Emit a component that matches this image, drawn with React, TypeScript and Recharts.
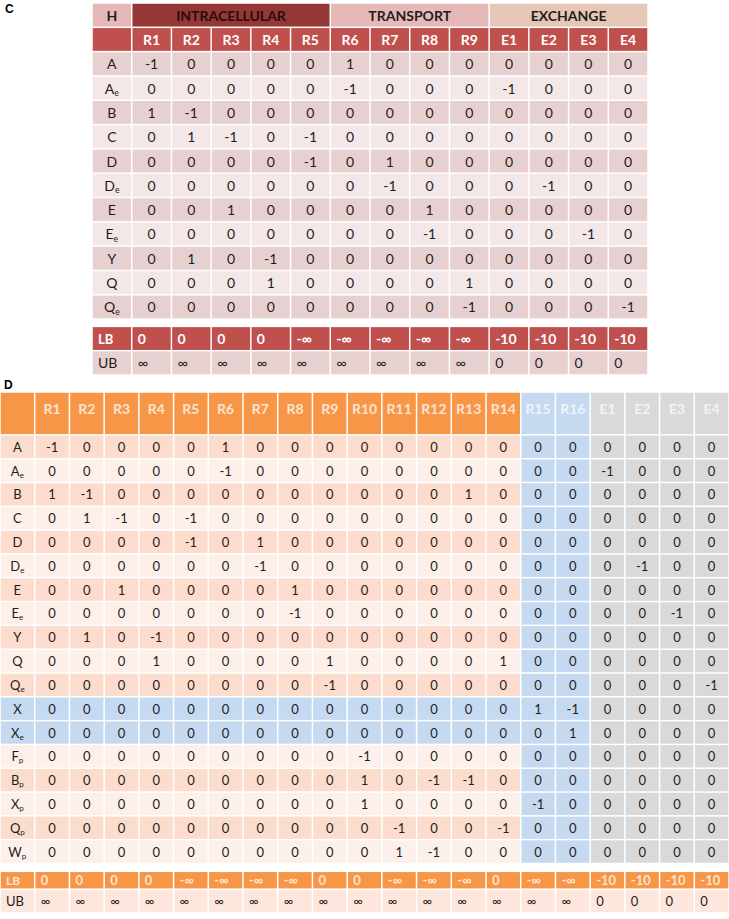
import React from 'react';
import { ScatterChart, Scatter, XAxis, YAxis } from 'recharts';

const FONT = 'Lato, "Open Sans", "DejaVu Sans", sans-serif';

// ---------- Panel C data ----------
const cGroups = ['INTRACELLULAR', 'TRANSPORT', 'EXCHANGE'];
const cGroupSpans = [5, 4, 4];
const cCols = ['R1', 'R2', 'R3', 'R4', 'R5', 'R6', 'R7', 'R8', 'R9', 'E1', 'E2', 'E3', 'E4'];
const cRows = ['A', 'A_e', 'B', 'C', 'D', 'D_e', 'E', 'E_e', 'Y', 'Q', 'Q_e'];
const cValues = [
  [-1, 0, 0, 0, 0, 1, 0, 0, 0, 0, 0, 0, 0],
  [0, 0, 0, 0, 0, -1, 0, 0, 0, -1, 0, 0, 0],
  [1, -1, 0, 0, 0, 0, 0, 0, 0, 0, 0, 0, 0],
  [0, 1, -1, 0, -1, 0, 0, 0, 0, 0, 0, 0, 0],
  [0, 0, 0, 0, -1, 0, 1, 0, 0, 0, 0, 0, 0],
  [0, 0, 0, 0, 0, 0, -1, 0, 0, 0, -1, 0, 0],
  [0, 0, 1, 0, 0, 0, 0, 1, 0, 0, 0, 0, 0],
  [0, 0, 0, 0, 0, 0, 0, -1, 0, 0, 0, -1, 0],
  [0, 1, 0, -1, 0, 0, 0, 0, 0, 0, 0, 0, 0],
  [0, 0, 0, 1, 0, 0, 0, 0, 1, 0, 0, 0, 0],
  [0, 0, 0, 0, 0, 0, 0, 0, -1, 0, 0, 0, -1],
];
const cLB = ['0', '0', '0', '0', '-∞', '-∞', '-∞', '-∞', '-∞', '-10', '-10', '-10', '-10'];
const cUB = ['∞', '∞', '∞', '∞', '∞', '∞', '∞', '∞', '∞', '0', '0', '0', '0'];

// ---------- Panel D data ----------
const dCols = ['R1', 'R2', 'R3', 'R4', 'R5', 'R6', 'R7', 'R8', 'R9', 'R10', 'R11', 'R12', 'R13', 'R14', 'R15', 'R16', 'E1', 'E2', 'E3', 'E4'];
const dRows = ['A', 'A_e', 'B', 'C', 'D', 'D_e', 'E', 'E_e', 'Y', 'Q', 'Q_e', 'X', 'X_e', 'F_p', 'B_p', 'X_p', 'Q_p', 'W_p'];
const dValues = [
  [-1, 0, 0, 0, 0, 1, 0, 0, 0, 0, 0, 0, 0, 0, 0, 0, 0, 0, 0, 0],
  [0, 0, 0, 0, 0, -1, 0, 0, 0, 0, 0, 0, 0, 0, 0, 0, -1, 0, 0, 0],
  [1, -1, 0, 0, 0, 0, 0, 0, 0, 0, 0, 0, 1, 0, 0, 0, 0, 0, 0, 0],
  [0, 1, -1, 0, -1, 0, 0, 0, 0, 0, 0, 0, 0, 0, 0, 0, 0, 0, 0, 0],
  [0, 0, 0, 0, -1, 0, 1, 0, 0, 0, 0, 0, 0, 0, 0, 0, 0, 0, 0, 0],
  [0, 0, 0, 0, 0, 0, -1, 0, 0, 0, 0, 0, 0, 0, 0, 0, 0, -1, 0, 0],
  [0, 0, 1, 0, 0, 0, 0, 1, 0, 0, 0, 0, 0, 0, 0, 0, 0, 0, 0, 0],
  [0, 0, 0, 0, 0, 0, 0, -1, 0, 0, 0, 0, 0, 0, 0, 0, 0, 0, -1, 0],
  [0, 1, 0, -1, 0, 0, 0, 0, 0, 0, 0, 0, 0, 0, 0, 0, 0, 0, 0, 0],
  [0, 0, 0, 1, 0, 0, 0, 0, 1, 0, 0, 0, 0, 1, 0, 0, 0, 0, 0, 0],
  [0, 0, 0, 0, 0, 0, 0, 0, -1, 0, 0, 0, 0, 0, 0, 0, 0, 0, 0, -1],
  [0, 0, 0, 0, 0, 0, 0, 0, 0, 0, 0, 0, 0, 0, 1, -1, 0, 0, 0, 0],
  [0, 0, 0, 0, 0, 0, 0, 0, 0, 0, 0, 0, 0, 0, 0, 1, 0, 0, 0, 0],
  [0, 0, 0, 0, 0, 0, 0, 0, 0, -1, 0, 0, 0, 0, 0, 0, 0, 0, 0, 0],
  [0, 0, 0, 0, 0, 0, 0, 0, 0, 1, 0, -1, -1, 0, 0, 0, 0, 0, 0, 0],
  [0, 0, 0, 0, 0, 0, 0, 0, 0, 1, 0, 0, 0, 0, -1, 0, 0, 0, 0, 0],
  [0, 0, 0, 0, 0, 0, 0, 0, 0, 0, -1, 0, 0, -1, 0, 0, 0, 0, 0, 0],
  [0, 0, 0, 0, 0, 0, 0, 0, 0, 0, 1, -1, 0, 0, 0, 0, 0, 0, 0, 0],
];
const dLB = ['0', '0', '0', '0', '-∞', '-∞', '-∞', '-∞', '0', '0', '-∞', '-∞', '-∞', '0', '-∞', '-∞', '-10', '-10', '-10', '-10'];
const dUB = ['∞', '∞', '∞', '∞', '∞', '∞', '∞', '∞', '∞', '∞', '∞', '∞', '∞', '∞', '∞', '∞', '0', '0', '0', '0'];
const dBlueRows = ['X', 'X_e'];
const dBlueCols = ['R15', 'R16'];
const dGrayCols = ['E1', 'E2', 'E3', 'E4'];

// ---------- styling ----------
const TXT = '#1e1e1e';
const C_PINK = '#e6b9b8';
const C_INTRA = '#953735';
const C_EXCH = '#e6c6b6';
const C_RED = '#c0504d';
const C_DARK = '#e7d0d0';
const C_LIGHT = '#f3e7e7';
const D_ORANGE = '#f79646';
const D_ORANGE_TXT = '#fde4d2';
const D_BLUE = '#c5d9f1';
const D_BLUE_TXT = '#eef4fb';
const D_GRAY = '#d9d9d9';
const D_GRAY_TXT = '#f3f3f3';
const D_DARK = '#fcdccd';
const D_LIGHT = '#fdf0ea';
const D_UB = '#fde7dc';

type CellT = {
  x: number; y: number; w: number; h: number;
  fill: string; text: string; color: string; bold?: boolean;
  align?: 'center' | 'start'; fs: number; ty?: number;
};

const valStr = (v: number) => String(v);

// Panel C layout (units: columns / rows)
const C_W = 556, C_H = 372;
const C_XSPAN = cCols.length + 1;
const C_GAP = 0.3;
const C_YSPAN = 2 + cRows.length + C_GAP + 2;

function buildC(): CellT[] {
  const cells: CellT[] = [];
  cells.push({ x: 0.5, y: 0.5, w: 1, h: 1, fill: C_PINK, text: 'H', color: TXT, bold: true, fs: 14 });
  let start = 1;
  const groupFills = [C_INTRA, C_PINK, C_EXCH];
  cGroups.forEach((g, i) => {
    const span = cGroupSpans[i];
    cells.push({ x: start + span / 2, y: 0.5, w: span, h: 1, fill: groupFills[i], text: g, color: i === 0 ? '#2a0c0c' : TXT, bold: true, fs: 14 });
    start += span;
  });
  cells.push({ x: 0.5, y: 1.5, w: 1, h: 1, fill: C_RED, text: '', color: '#fff', fs: 14 });
  cCols.forEach((c, j) => cells.push({ x: j + 1.5, y: 1.5, w: 1, h: 1, fill: C_RED, text: c, color: '#fff', bold: true, fs: 14 }));
  cRows.forEach((r, i) => {
    const fill = i % 2 === 0 ? C_DARK : C_LIGHT;
    const y = 2.5 + i;
    cells.push({ x: 0.5, y, w: 1, h: 1, fill, text: r, color: TXT, fs: 14 });
    cValues[i].forEach((v, j) => cells.push({ x: j + 1.5, y, w: 1, h: 1, fill, text: valStr(v), color: TXT, fs: 14 }));
  });
  const yLB = 2 + cRows.length + C_GAP + 0.5;
  cells.push({ x: 0.5, y: yLB, w: 1, h: 1, fill: C_RED, text: 'LB', color: '#fff', bold: true, align: 'start', fs: 13 });
  cLB.forEach((t, j) => cells.push({ x: j + 1.5, y: yLB, w: 1, h: 1, fill: C_RED, text: t, color: '#fff', bold: true, align: 'start', fs: 14 }));
  const yUB = yLB + 1;
  cells.push({ x: 0.5, y: yUB, w: 1, h: 1, fill: C_DARK, text: 'UB', color: TXT, align: 'start', fs: 14 });
  cUB.forEach((t, j) => cells.push({ x: j + 1.5, y: yUB, w: 1, h: 1, fill: C_DARK, text: t, color: TXT, align: 'start', fs: 14 }));
  return cells;
}

// Panel D layout
const D_W = 729, D_H = 521;
const D_XSPAN = dCols.length + 1;
const D_HEAD = 1.8;
const D_GAP = 0.33;
const D_LBH = 0.75;
const D_YSPAN = D_HEAD + dRows.length + D_GAP + D_LBH + 1;

function buildD(): CellT[] {
  const cells: CellT[] = [];
  const headFill = (c: string) => dBlueCols.includes(c) ? D_BLUE : dGrayCols.includes(c) ? D_GRAY : D_ORANGE;
  const headTxt = (c: string) => dBlueCols.includes(c) ? D_BLUE_TXT : dGrayCols.includes(c) ? D_GRAY_TXT : D_ORANGE_TXT;
  cells.push({ x: 0.5, y: D_HEAD / 2, w: 1, h: D_HEAD, fill: D_ORANGE, text: '', color: D_ORANGE_TXT, fs: 14 });
  dCols.forEach((c, j) => cells.push({ x: j + 1.5, y: D_HEAD / 2, w: 1, h: D_HEAD, fill: headFill(c), text: c, color: headTxt(c), bold: true, fs: 14, ty: -5 }));
  dRows.forEach((r, i) => {
    const blueRow = dBlueRows.includes(r);
    const rowFill = blueRow ? D_BLUE : i % 2 === 0 ? D_DARK : D_LIGHT;
    const y = D_HEAD + i + 0.5;
    cells.push({ x: 0.5, y, w: 1, h: 1, fill: rowFill, text: r, color: TXT, fs: 13 });
    dValues[i].forEach((v, j) => {
      const c = dCols[j];
      const fill = dBlueCols.includes(c) ? D_BLUE : dGrayCols.includes(c) ? D_GRAY : rowFill;
      cells.push({ x: j + 1.5, y, w: 1, h: 1, fill, text: valStr(v), color: TXT, fs: 13 });
    });
  });
  const yLB = D_HEAD + dRows.length + D_GAP + D_LBH / 2;
  cells.push({ x: 0.5, y: yLB, w: 1, h: D_LBH, fill: D_ORANGE, text: 'LB', color: D_ORANGE_TXT, bold: true, align: 'start', fs: 12 });
  dLB.forEach((t, j) => cells.push({ x: j + 1.5, y: yLB, w: 1, h: D_LBH, fill: D_ORANGE, text: t, color: D_ORANGE_TXT, bold: true, align: 'start', fs: 13 }));
  const yUB = yLB + D_LBH / 2 + 0.5;
  cells.push({ x: 0.5, y: yUB, w: 1, h: 1, fill: D_UB, text: 'UB', color: TXT, align: 'start', fs: 13 });
  dUB.forEach((t, j) => cells.push({ x: j + 1.5, y: yUB, w: 1, h: 1, fill: D_UB, text: t, color: TXT, align: 'start', fs: 13 }));
  return cells;
}

const cCells = buildC();
const dCells = buildD();

function makeShape(pxX: number, pxY: number) {
  return (props: any) => {
    const { cx, cy, payload } = props;
    const p = payload as CellT;
    const w = p.w * pxX;
    const h = p.h * pxY;
    const left = cx - w / 2;
    const top = cy - h / 2;
    const [main, sub] = p.text.split('_');
    const tx = p.align === 'start' ? left + 6 : cx;
    const ty = cy + (p.ty || 0);
    return (
      <g>
        <rect x={left + 0.75} y={top + 0.75} width={w - 1.5} height={h - 1.5} fill={p.fill} />
        {p.text !== '' && (
          <text x={tx} y={ty} textAnchor={p.align === 'start' ? 'start' : 'middle'} dominantBaseline="central"
            fontFamily={FONT} fontSize={p.fs} fontWeight={p.bold ? 700 : 400} fill={p.color}>
            {main}
            {sub && <tspan dy={4} fontSize={p.fs * 0.62}>{sub}</tspan>}
          </text>
        )}
      </g>
    );
  };
}

function Table({ cells, width, height, xSpan, ySpan }: { cells: CellT[]; width: number; height: number; xSpan: number; ySpan: number }) {
  return (
    <ScatterChart width={width} height={height} margin={{ top: 0, right: 0, bottom: 0, left: 0 }}>
      <XAxis type="number" dataKey="x" domain={[0, xSpan]} hide allowDataOverflow />
      <YAxis type="number" dataKey="y" domain={[0, ySpan]} reversed hide allowDataOverflow />
      <Scatter data={cells} isAnimationActive={false} shape={makeShape(width / xSpan, height / ySpan)} />
    </ScatterChart>
  );
}

export default function App() {
  return (
    <div style={{ position: 'relative', width: 729, height: 919, background: '#fff', fontFamily: FONT }}>
      <style>{'body{margin:0;background:#fff}'}</style>
      <div style={{ position: 'absolute', left: 5, top: 2, fontFamily: 'Liberation Sans, Arial, sans-serif', fontWeight: 700, fontSize: 12 }}>C</div>
      <div style={{ position: 'absolute', left: 92, top: 3 }}>
        <Table cells={cCells} width={C_W} height={C_H} xSpan={C_XSPAN} ySpan={C_YSPAN} />
      </div>
      <div style={{ position: 'absolute', left: 4, top: 378, fontFamily: 'Liberation Sans, Arial, sans-serif', fontWeight: 700, fontSize: 12 }}>D</div>
      <div style={{ position: 'absolute', left: 0, top: 392 }}>
        <Table cells={dCells} width={D_W} height={D_H} xSpan={D_XSPAN} ySpan={D_YSPAN} />
      </div>
    </div>
  );
}
